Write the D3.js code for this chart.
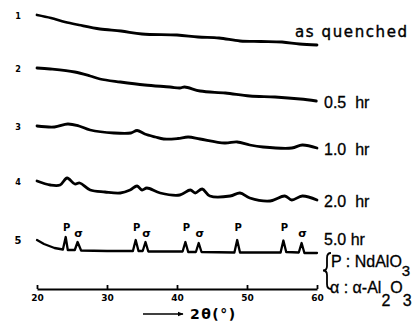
<!DOCTYPE html>
<html lang="en">
<head>
<meta charset="utf-8">
<script src="https://d3js.org/d3.v7.min.js"></script>
<style>
  body { margin: 0; background: #fff; }
  text { fill: #000; }
</style>
</head>
<body>
<div id="chart"></div>
<script>
// 2-theta positions and relative intensities (arbitrary units) for each pattern
const twoTheta1 = [20, 22, 24, 26, 29, 32, 35, 40, 43, 46, 49, 52, 55, 57.5, 60];
const int1 = [275, 272, 268, 265, 261, 259, 256, 255, 253, 252, 249, 248.5, 248, 246, 245];

const twoTheta2 = [20, 21.9, 25.4, 27.6, 29, 31.9, 35.4, 39, 40.4, 41.1, 43.3, 46.9, 50.4, 54, 57.6, 59.9];
const int2 = [222, 221, 218, 214, 211, 208, 205, 203, 202, 203, 199, 197, 194, 193, 191, 189];

const twoTheta3 = [20, 22.5, 24.4, 26, 27.6, 31, 33.4, 34.3, 35.4, 36.9, 38.1, 40.1, 41.6, 43.3, 46.8, 48.6, 50.4, 52.3, 56.4, 57.9, 60];
const int3 = [164, 163, 166, 164, 160, 157, 157, 159.5, 156, 153, 151, 151.5, 153, 151, 147, 148, 145, 143, 142, 145, 142];

const twoTheta4 = [20, 21.9, 23.3, 24.3, 25.4, 26.1, 27.6, 29.7, 31.9, 33.3, 34.3, 35, 35.7, 37.6, 40.4, 41.9, 42.6, 43.6, 44.7, 47.6, 49, 50.4, 53.3, 55.4, 56.4, 57.9, 60];
const int4 = [109, 105, 105, 112, 106, 107, 100, 98, 97, 100, 104, 100, 102, 97, 95, 100, 97, 101, 94, 94, 97, 92, 89, 94, 90, 94, 90];

const twoTheta5 = [20, 21, 22.5, 23.7, 24.1, 24.4, 25.4, 25.8, 26.3, 30, 33.7, 34.1, 34.5, 35.1, 35.5, 35.9, 40.8, 41.2, 41.6, 42.7, 43.1, 43.5, 48.2, 48.6, 49, 54.8, 55.2, 55.6, 57.4, 57.8, 58.2, 60];
const int5 = [50, 46, 42, 40.5, 53, 40, 40, 48, 39.5, 39, 39, 50, 39, 39, 48, 38.5, 38.5, 48, 38, 38, 47, 38, 37.5, 50, 37.5, 37.5, 49.5, 38, 37.5, 47, 37, 37];

const sampleNums = ["1", "2", "3", "4", "5"];
const seriesLabels = ["as quenched", "0.5  hr", "1.0  hr", "2.0  hr", "5.0 hr"];

const pPeaks = [24.1, 34.1, 41.2, 48.6, 55.2];
const aPeaks = [25.8, 35.5, 43.1, 57.8];

const xTicks = [20, 30, 40, 50, 60];

const W = 414, H = 325;
const svg = d3.select("#chart").append("svg")
  .attr("width", W).attr("height", H);

svg.append("rect").attr("width", W).attr("height", H).attr("fill", "#fff");

const x = d3.scaleLinear().domain([20, 60]).range([37, 317]);
const y = d3.scaleLinear().domain([0, 280]).range([290, 10]);

const series = [
  [twoTheta1, int1], [twoTheta2, int2], [twoTheta3, int3], [twoTheta4, int4], [twoTheta5, int5]
].map(([t, v]) => t.map((d, i) => ({ t: d, v: v[i] })));

const smooth = d3.line().x(d => x(d.t)).y(d => y(d.v)).curve(d3.curveCatmullRom.alpha(0.5));
const sharp = d3.line().x(d => x(d.t)).y(d => y(d.v));

svg.selectAll("path.pattern")
  .data(series)
  .join("path")
  .attr("class", "pattern")
  .attr("d", (d, i) => i < 4 ? smooth(d) : sharp(d))
  .attr("fill", "none")
  .attr("stroke", "#000")
  .attr("stroke-width", (d, i) => i < 4 ? 2.8 : 2.3)
  .attr("stroke-linejoin", "round")
  .attr("stroke-linecap", "round");

// sample numbers on the left
svg.selectAll("text.num")
  .data(series)
  .join("text")
  .attr("class", "num")
  .attr("x", 18)
  .attr("y", d => y(d[0].v) + 4)
  .attr("text-anchor", "middle")
  .style("font", (d, i) => i < 4 ? "bold 9px 'DejaVu Sans Condensed', 'DejaVu Sans'" : "bold 11px 'DejaVu Sans Condensed', 'DejaVu Sans'")
  .text((d, i) => sampleNums[i]);

// labels at the right end
const labelY = [37, 107.5, 155, 206.5, 245];
svg.selectAll("text.lab")
  .data(seriesLabels)
  .join("text")
  .attr("class", "lab")
  .attr("x", (d, i) => i === 0 ? 295 : 324)
  .attr("y", (d, i) => labelY[i])
  .attr("xml:space", "preserve")
  .style("white-space", "pre")
  .style("letter-spacing", (d, i) => i === 0 ? "1.6px" : "0px")
  .style("font", (d, i) => i === 0 ? "15px 'DejaVu Sans'" : "16px 'Liberation Sans', Arial")
  .style("stroke", "#000")
  .style("stroke-width", (d, i) => i === 0 ? 0.4 : 0.3)
  .text(d => d);

// peak markers
svg.selectAll("text.p")
  .data(pPeaks)
  .join("text")
  .attr("class", "p")
  .attr("x", d => x(d) + 1)
  .attr("y", 231)
  .attr("text-anchor", "middle")
  .style("font", "bold 10px 'DejaVu Sans'")
  .text("P");

svg.selectAll("text.a")
  .data(aPeaks)
  .join("text")
  .attr("class", "a")
  .attr("x", d => x(d) + 1)
  .attr("y", 237)
  .attr("text-anchor", "middle")
  .style("font", "bold 11px 'DejaVu Sans'")
  .text("σ");

// legend
const leg = svg.append("g")
  .style("font", "16px 'Liberation Sans', Arial")
  .style("stroke", "#000").style("stroke-width", 0.3);
leg.append("path")
  .attr("d", "M331,253 Q327,253 327,258 L327,266 Q327,270.5 323,270.5 Q327,270.5 327,275 L327,284 Q327,289 331,289")
  .attr("fill", "none").attr("stroke", "#000").attr("stroke-width", 1.8);
const l1 = leg.append("text").attr("x", 331).attr("y", 267);
l1.append("tspan").text("P : NdAlO");
l1.append("tspan").attr("dy", 9).style("font-size", "15px").text("3");
const l2 = leg.append("text").attr("x", 330).attr("y", 293);
l2.append("tspan").text("α : α-Al");
l2.append("tspan").attr("dy", 13).text("2");
l2.append("tspan").attr("dy", -13).text("O");
l2.append("tspan").attr("dy", 13).text("3");

// x axis
const axis = svg.append("g")
  .attr("transform", "translate(0,289)")
  .call(d3.axisBottom(x).tickValues(xTicks).tickSizeInner(-4).tickSizeOuter(0).tickPadding(6));
axis.select(".domain").attr("stroke", "#000").attr("stroke-width", 1.8);
axis.selectAll(".tick line").attr("stroke", "#000").attr("stroke-width", 1.8);
axis.selectAll(".tick text")
  .style("font", "bold 9px 'DejaVu Sans'")
  .attr("fill", "#000");

// axis title with arrow
svg.append("defs").append("marker")
  .attr("id", "arr").attr("viewBox", "0 0 10 10")
  .attr("refX", 9).attr("refY", 5)
  .attr("markerWidth", 4).attr("markerHeight", 4)
  .attr("orient", "auto")
  .append("path").attr("d", "M0,1 L10,5 L0,9 z").attr("fill", "#000");
svg.append("line")
  .attr("x1", 143).attr("x2", 183).attr("y1", 314).attr("y2", 314)
  .attr("stroke", "#000").attr("stroke-width", 1.5)
  .attr("marker-end", "url(#arr)");
svg.append("text")
  .attr("x", 190).attr("y", 319)
  .style("font", "bold 14px 'DejaVu Sans'")
  .style("letter-spacing", "1.5px")
  .text("2θ(°)");
</script>
</body>
</html>
